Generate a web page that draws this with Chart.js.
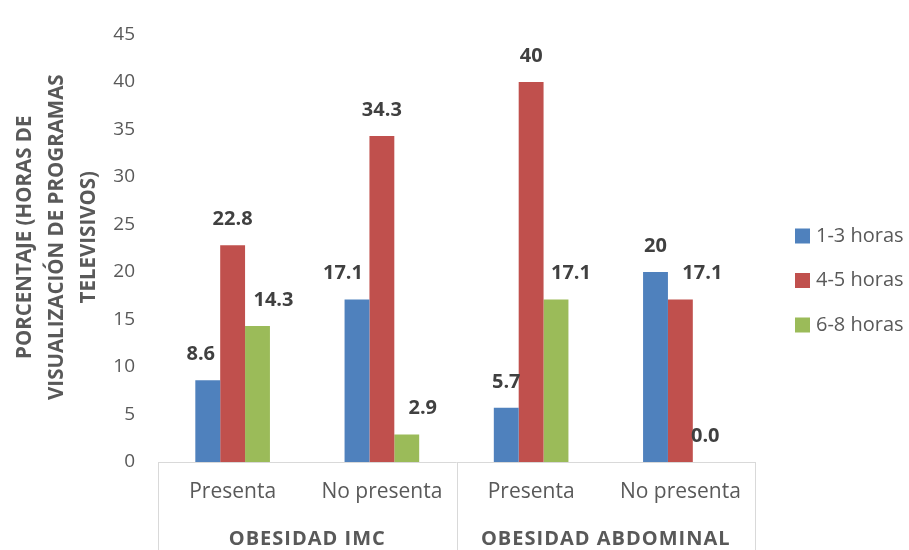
<!DOCTYPE html>
<html>
<head>
<meta charset="utf-8">
<script src="https://cdn.jsdelivr.net/npm/chart.js@4.4.0/dist/chart.umd.min.js"></script>
<style>
  html, body { margin: 0; padding: 0; background: #ffffff; }
  #wrap { width: 909px; height: 550px; position: relative; }
</style>
</head>
<body>
<div id="wrap"><canvas id="c" width="909" height="550"></canvas></div>
<script>
// Categories (two-level axis: condition within obesity measure)
const categories = ['Presenta', 'No presenta', 'Presenta', 'No presenta'];
const groups = ['OBESIDAD IMC', 'OBESIDAD ABDOMINAL'];

// Percentages by hours of TV viewing
const seriesNames = ['1-3 horas', '4-5 horas', '6-8 horas'];
const horas13 = [8.6, 17.1, 5.7, 20];
const horas45 = [22.8, 34.3, 40, 17.1];
const horas68 = [14.3, 2.9, 17.1, 0];

// Value labels as printed above the bars
const labels13 = ['8.6', '17.1', '5.7', '20'];
const labels45 = ['22.8', '34.3', '40', '17.1'];
const labels68 = ['14.3', '2.9', '17.1', '0.0'];

const yTitle = ['PORCENTAJE (HORAS DE', 'VISUALIZACIÓN DE PROGRAMAS', 'TELEVISIVOS)'];

const FONT = "'Open Sans', 'Noto Sans', sans-serif";
const TEXT = '#595959';
const COLORS = ['#4F81BD', '#C0504D', '#9BBB59'];

// Horizontal nudges of value labels so neighbouring labels do not collide
const labelShift = [
  [-7, -14, 0, 0],
  [0, 0, 0, 22],
  [16, 16, 15, 0]
];

const valueLabels = {
  id: 'valueLabels',
  afterDatasetsDraw(chart) {
    const ctx = chart.ctx;
    const texts = [labels13, labels45, labels68];
    ctx.save();
    ctx.font = "bold 20px " + FONT;
    ctx.fillStyle = '#404040';
    ctx.textAlign = 'center';
    ctx.textBaseline = 'middle';
    chart.data.datasets.forEach((ds, di) => {
      const meta = chart.getDatasetMeta(di);
      meta.data.forEach((bar, i) => {
        ctx.fillText(texts[di][i], bar.x + labelShift[di][i], bar.y - 26);
      });
    });
    ctx.restore();
  }
};

// Group row and frame of the two-level category axis
const groupAxis = {
  id: 'groupAxis',
  afterDraw(chart) {
    const ctx = chart.ctx;
    const x = chart.scales.x;
    const area = chart.chartArea;
    const bottom = chart.height;
    const mid = (x.getPixelForValue(1) + x.getPixelForValue(2)) / 2;
    ctx.save();
    ctx.strokeStyle = '#d9d9d9';
    ctx.lineWidth = 1;
    ctx.beginPath();
    ctx.moveTo(area.left, Math.round(area.bottom) + 0.5);
    ctx.lineTo(area.right, Math.round(area.bottom) + 0.5);
    [area.left, mid, area.right].forEach(px => {
      const p = Math.round(px) + 0.5;
      ctx.moveTo(p, area.bottom);
      ctx.lineTo(p, bottom);
    });
    ctx.stroke();
    ctx.font = "bold 20px " + FONT;
    ctx.letterSpacing = '1px';
    ctx.fillStyle = TEXT;
    ctx.textAlign = 'center';
    ctx.textBaseline = 'middle';
    ctx.fillText(groups[0], (area.left + mid) / 2, area.bottom + 77);
    ctx.fillText(groups[1], (mid + area.right) / 2, area.bottom + 77);
    ctx.restore();
  }
};

// Rotated three-line title of the value axis
const valueAxisTitle = {
  id: 'valueAxisTitle',
  afterDraw(chart) {
    const ctx = chart.ctx;
    const cy = (chart.chartArea.top + chart.chartArea.bottom) / 2 - 11;
    ctx.save();
    ctx.font = "bold 20.5px " + FONT;
    ctx.fillStyle = TEXT;
    ctx.textAlign = 'center';
    ctx.textBaseline = 'middle';
    yTitle.forEach((line, i) => {
      ctx.save();
      ctx.translate(25 + i * 32, cy);
      ctx.rotate(-Math.PI / 2);
      ctx.fillText(line, 0, 0);
      ctx.restore();
    });
    ctx.restore();
  }
};

// Series key at the right of the plot
const sideLegend = {
  id: 'sideLegend',
  afterDraw(chart) {
    const ctx = chart.ctx;
    const x0 = chart.chartArea.right + 40;
    const yc = 236;
    const step = 44.5;
    ctx.save();
    ctx.font = "20px " + FONT;
    ctx.textAlign = 'left';
    ctx.textBaseline = 'middle';
    chart.data.datasets.forEach((ds, i) => {
      const y = yc + i * step;
      ctx.fillStyle = ds.backgroundColor;
      ctx.fillRect(x0, y - 7.5, 15, 15);
      ctx.fillStyle = TEXT;
      ctx.fillText(ds.label, x0 + 21, y);
    });
    ctx.restore();
  }
};

new Chart(document.getElementById('c'), {
  type: 'bar',
  data: {
    labels: categories,
    datasets: [
      { label: seriesNames[0], data: horas13, backgroundColor: COLORS[0] },
      { label: seriesNames[1], data: horas45, backgroundColor: COLORS[1] },
      { label: seriesNames[2], data: horas68, backgroundColor: COLORS[2] }
    ]
  },
  options: {
    responsive: false,
    animation: false,
    devicePixelRatio: 1,
    categoryPercentage: 0.5,
    barPercentage: 1.0,
    layout: { padding: { top: 21, left: 0, right: 154, bottom: 0 } },
    plugins: {
      tooltip: { enabled: false },
      legend: { display: false }
    },
    scales: {
      x: {
        grid: { display: false, drawTicks: false },
        border: { display: false },
        ticks: {
          color: TEXT,
          font: { family: FONT, size: 21 },
          padding: 17,
          maxRotation: 0,
          autoSkip: false
        },
        afterFit(scale) { scale.height = 88; }
      },
      y: {
        min: 0,
        max: 45,
        grid: { display: false, drawTicks: false },
        border: { display: false },
        ticks: {
          stepSize: 5,
          color: TEXT,
          font: { family: FONT, size: 19 },
          padding: 23
        },
        afterFit(scale) { scale.width = 158; }
      }
    }
  },
  plugins: [valueLabels, groupAxis, valueAxisTitle, sideLegend]
});
</script>
</body>
</html>
